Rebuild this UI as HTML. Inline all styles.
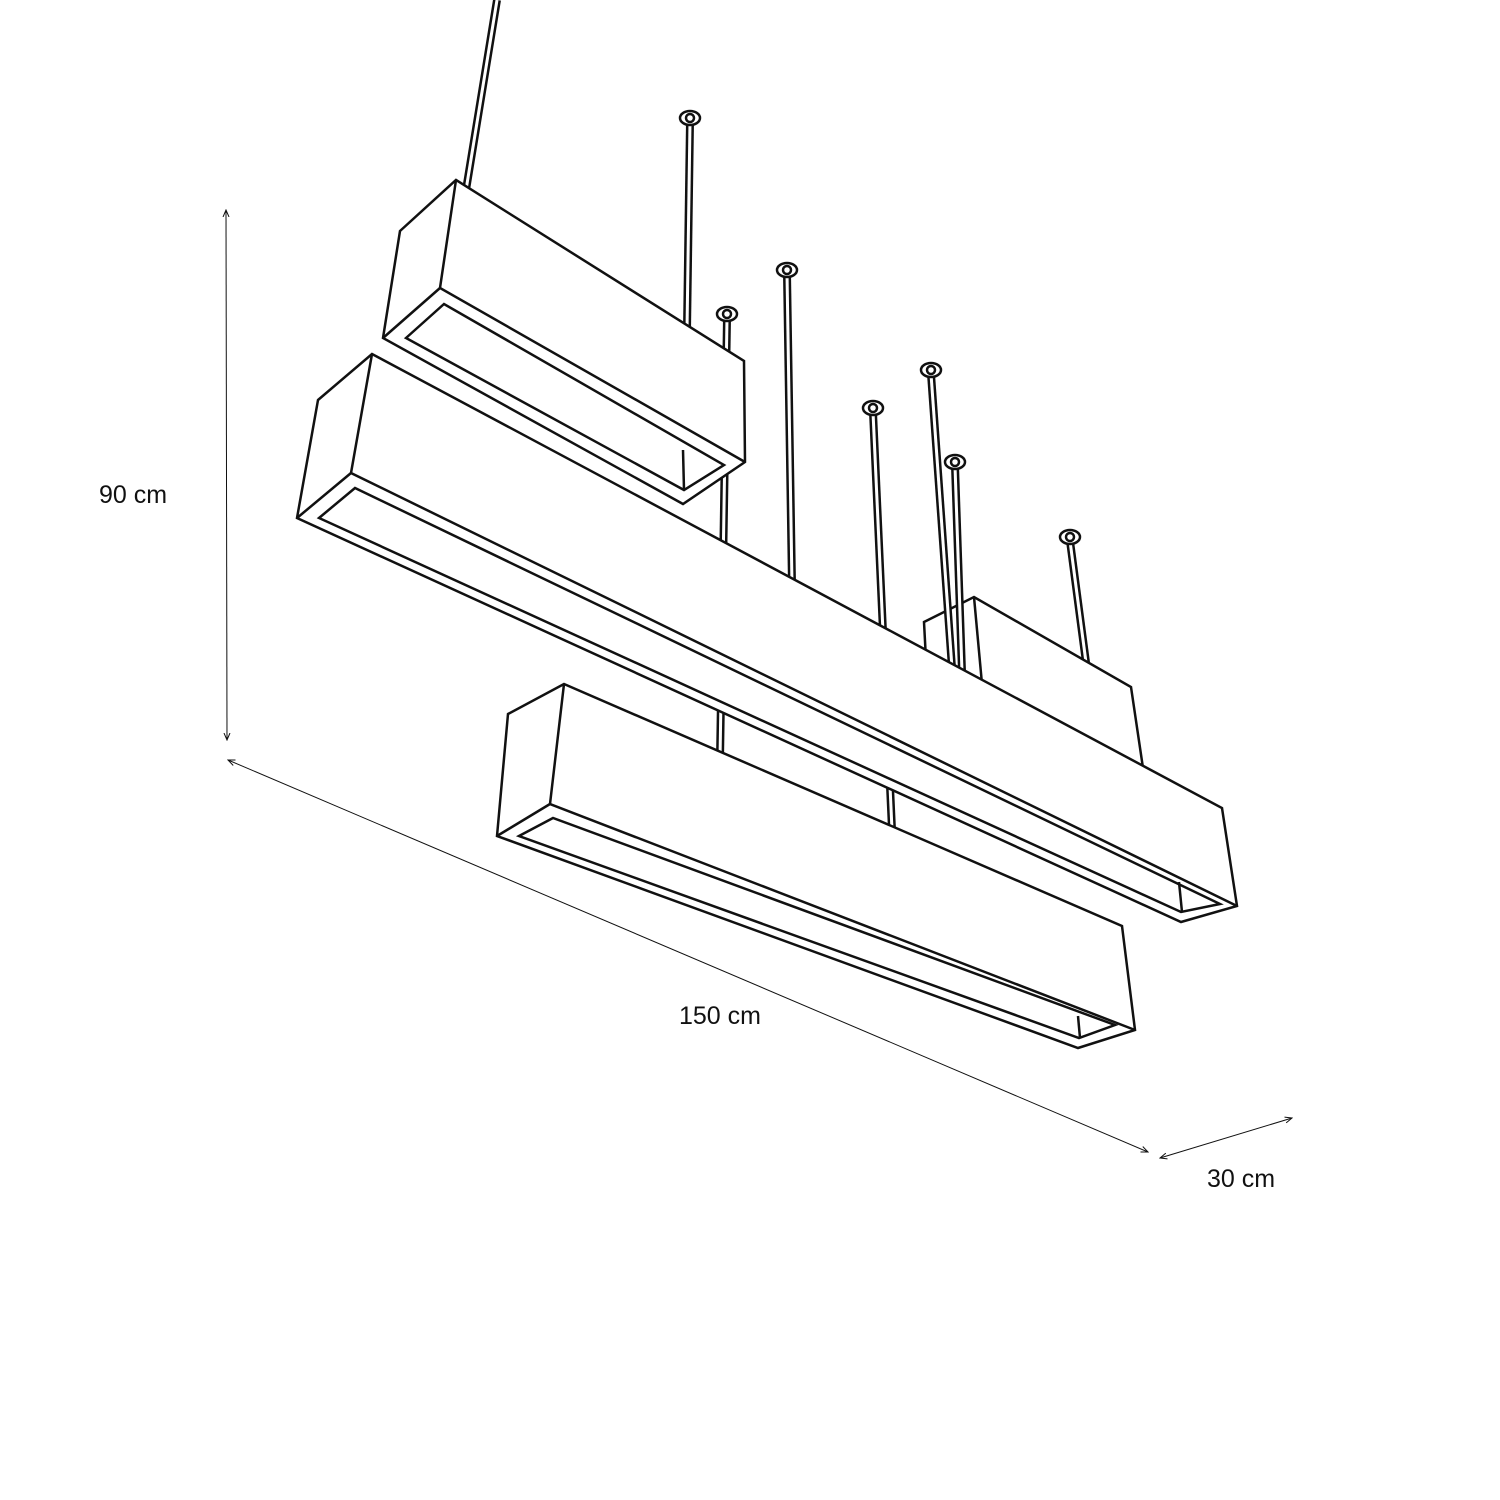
<!DOCTYPE html>
<html><head><style>body{margin:0;background:#fff}svg{display:block}text{font-family:"Liberation Sans",sans-serif;font-size:25px;fill:#111}</style></head>
<body>
<svg width="1500" height="1500" viewBox="0 0 1500 1500">
<defs>
<marker id="ar" markerWidth="8" markerHeight="8" refX="7" refY="4" orient="auto-start-reverse"><path d="M0,1 L7,4 L0,7" fill="none" stroke="#111" stroke-width="1"/></marker>
</defs>
<g stroke="#111" stroke-width="1" fill="none">
<line x1="226" y1="210" x2="227" y2="740" marker-start="url(#ar)" marker-end="url(#ar)"/>
<line x1="228" y1="760" x2="1148" y2="1152" marker-start="url(#ar)" marker-end="url(#ar)"/>
<line x1="1160" y1="1158" x2="1292" y2="1118" marker-start="url(#ar)" marker-end="url(#ar)"/>
</g>
<text x="99" y="503">90 cm</text>
<text x="679" y="1024">150 cm</text>
<text x="1207" y="1187">30 cm</text>
<g stroke-linecap="butt">
<line x1="497" y1="0" x2="466" y2="190" stroke="#111" stroke-width="8"/><line x1="497" y1="0" x2="466" y2="190" stroke="#fff" stroke-width="3"/>
<line x1="690" y1="122" x2="687" y2="330" stroke="#111" stroke-width="8"/><line x1="690" y1="122" x2="687" y2="330" stroke="#fff" stroke-width="3"/>
<line x1="727" y1="318" x2="720" y2="760" stroke="#111" stroke-width="8"/><line x1="727" y1="318" x2="720" y2="760" stroke="#fff" stroke-width="3"/>
<line x1="787" y1="274" x2="792" y2="585" stroke="#111" stroke-width="8"/><line x1="787" y1="274" x2="792" y2="585" stroke="#fff" stroke-width="3"/>
<line x1="873" y1="412" x2="892" y2="830" stroke="#111" stroke-width="8"/><line x1="873" y1="412" x2="892" y2="830" stroke="#fff" stroke-width="3"/>
<line x1="1070" y1="541" x2="1087" y2="670" stroke="#111" stroke-width="8"/><line x1="1070" y1="541" x2="1087" y2="670" stroke="#fff" stroke-width="3"/>
<g fill="#fff" stroke="#111" stroke-width="2.5">
<ellipse cx="690" cy="118" rx="10" ry="7"/><circle cx="690" cy="118" r="4"/>
<ellipse cx="727" cy="314" rx="10" ry="7"/><circle cx="727" cy="314" r="4"/>
<ellipse cx="787" cy="270" rx="10" ry="7"/><circle cx="787" cy="270" r="4"/>
<ellipse cx="873" cy="408" rx="10" ry="7"/><circle cx="873" cy="408" r="4"/>
<ellipse cx="1070" cy="537" rx="10" ry="7"/><circle cx="1070" cy="537" r="4"/>
</g>
<!-- D -->
<g fill="#fff" stroke="#111" stroke-width="2.5" stroke-linejoin="miter">
<polygon points="924,622 974,597 1131,687 1143,768 980,700 926,660"/>
<line x1="974" y1="597" x2="982" y2="684"/>
</g>
<line x1="931" y1="374" x2="952" y2="668" stroke="#111" stroke-width="8"/><line x1="931" y1="374" x2="952" y2="668" stroke="#fff" stroke-width="3"/>
<line x1="955" y1="466" x2="962" y2="672" stroke="#111" stroke-width="8"/><line x1="955" y1="466" x2="962" y2="672" stroke="#fff" stroke-width="3"/>
<g fill="#fff" stroke="#111" stroke-width="2.5">
<ellipse cx="931" cy="370" rx="10" ry="7"/><circle cx="931" cy="370" r="4"/>
<ellipse cx="955" cy="462" rx="10" ry="7"/><circle cx="955" cy="462" r="4"/>
</g>
<!-- C -->
<g fill="#fff" stroke="#111" stroke-width="2.5" stroke-linejoin="miter">
<polygon points="508,714 564,684 1122,926 1135,1030 1078,1048 497,836"/>
<polyline points="564,684 550,804 1135,1030" fill="none"/>
<line x1="497" y1="836" x2="550" y2="804"/>
<polygon points="519,836 553,818 1115,1025 1079,1038" fill="none"/>
<line x1="1078" y1="1016" x2="1080" y2="1038"/>
</g>
<!-- B -->
<g fill="#fff" stroke="#111" stroke-width="2.5" stroke-linejoin="miter">
<polygon points="318,400 372,354 1222,808 1237,906 1181,922 297,518"/>
<polyline points="372,354 351,473 1237,906" fill="none"/>
<line x1="297" y1="518" x2="351" y2="473"/>
<polygon points="319,518 355,488 1220,904 1181,912" fill="none"/>
<line x1="1179" y1="882" x2="1182" y2="912"/>
</g>
<!-- A -->
<g fill="#fff" stroke="#111" stroke-width="2.5" stroke-linejoin="miter">
<polygon points="400,231 456,180 744,361 745,462 683,504 383,338"/>
<polyline points="456,180 440,288 745,462" fill="none"/>
<line x1="383" y1="338" x2="440" y2="288"/>
<polygon points="406,338 444,304 724,465 684,490" fill="none"/>
<line x1="683" y1="450" x2="684" y2="490"/>
</g>
</g>
</svg>
</body></html>
